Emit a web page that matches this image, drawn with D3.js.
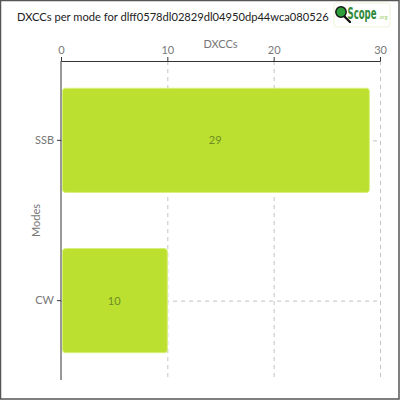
<!DOCTYPE html>
<html><head><meta charset="utf-8">
<script src="https://cdn.jsdelivr.net/npm/d3@7"></script>
<style>
html,body{margin:0;padding:0;background:#fff;}
svg{display:block;font-family:"Lato","DejaVu Sans",sans-serif;}
</style></head>
<body>
<svg id="chart" width="400" height="400"></svg>
<script>
const titleText = "DXCCs per mode for dlff0578dl02829dl04950dp44wca080526";
const modes = ["SSB", "CW"];
const dxccs = [29, 10];
const xTicks = [0, 10, 20, 30];
const xLabel = "DXCCs";
const yLabel = "Modes";

const svg = d3.select("#chart");
const W = 400, H = 400;
const m = {left: 61, right: 20, top: 61, bottom: 20};

function fitText(sel, base, target) {
  sel.attr("font-size", base);
  const w = sel.node().getComputedTextLength();
  sel.attr("font-size", (base * target / w).toFixed(2));
}

// outer border
svg.append("rect").attr("x", 0.5).attr("y", 0.5).attr("width", W - 1.5).attr("height", H - 1.5)
  .attr("fill", "#fff").attr("stroke", "#555").attr("stroke-width", 1.5);

const title = svg.append("text").attr("x", 17).attr("y", 21).attr("fill", "#222").text(titleText);
fitText(title, 12, 312);

// logo
const logo = svg.append("g");
logo.append("rect").attr("x", 334).attr("y", 3).attr("width", 56).attr("height", 24).attr("rx", 3)
  .attr("fill", "#fff").attr("stroke", "#eef3d8").attr("stroke-width", 1);
logo.append("line").attr("x1", 343).attr("y1", 15).attr("x2", 350).attr("y2", 22)
  .attr("stroke", "#111").attr("stroke-width", 2.4).attr("stroke-linecap", "round");
logo.append("circle").attr("cx", 341).attr("cy", 12).attr("r", 5.2)
  .attr("fill", "#2e9e3a").attr("stroke", "#111").attr("stroke-width", 1.4);
const scopeG = logo.append("g");
const scope = scopeG.append("text").attr("x", 0).attr("y", 0).attr("font-weight", "bold")
  .attr("font-size", 15)
  .attr("font-family", "'Liberation Sans Narrow','DejaVu Sans Condensed',sans-serif")
  .attr("fill", "#2d8a3a").text("Scope");
const sw = scope.node().getComputedTextLength();
scopeG.attr("transform", `translate(347.5,18.5) scale(${(29 / sw).toFixed(3)},1)`);
const org = logo.append("text").attr("x", 378.5).attr("y", 19).attr("fill", "#9ccf6a").text(".org");
fitText(org, 5, 9);

const x = d3.scaleLinear().domain([0, 30]).range([m.left, W - m.right]);
const y = d3.scaleBand().domain(modes).range([m.top, H - m.bottom]).paddingInner(0.35).paddingOuter(0.17);

// grid
const grid = svg.append("g").attr("stroke", "#c4c4c4").attr("stroke-dasharray", "4,4").attr("stroke-width", 1);
grid.selectAll("line.v").data(xTicks.filter(d => d > 0)).join("line")
  .attr("x1", d => x(d) + 0.5).attr("x2", d => x(d) + 0.5)
  .attr("y1", m.top).attr("y2", H - m.bottom);
grid.selectAll("line.h").data(modes).join("line")
  .attr("x1", m.left).attr("x2", W - m.right)
  .attr("y1", d => y(d) + y.bandwidth() / 2 + 0.5).attr("y2", d => y(d) + y.bandwidth() / 2 + 0.5);

// bars
svg.append("g").selectAll("rect").data(modes).join("rect")
  .attr("x", x(0) + 1.5).attr("y", d => y(d))
  .attr("width", (d, i) => x(dxccs[i]) - x(0) - 1.5)
  .attr("height", y.bandwidth())
  .attr("rx", 3)
  .attr("fill", "#bce030").attr("stroke", "#d8f07a").attr("stroke-width", 1);

svg.append("g").selectAll("text").data(modes).join("text")
  .attr("x", (d, i) => (x(0) + x(dxccs[i])) / 2)
  .attr("y", d => y(d) + y.bandwidth() / 2 + 4)
  .attr("text-anchor", "middle").attr("font-size", 11).attr("fill", "#6c8d25")
  .text((d, i) => dxccs[i]);

// axes
const xAxis = svg.append("g").attr("transform", `translate(0,${m.top})`)
  .call(d3.axisTop(x).tickValues(xTicks).tickSize(4).tickSizeOuter(0));
const yAxis = svg.append("g").attr("transform", `translate(${m.left},0)`)
  .call(d3.axisLeft(y).tickSize(4).tickSizeOuter(0));
[xAxis, yAxis].forEach(a => {
  a.select(".domain").attr("stroke", "#333");
  a.selectAll(".tick line").attr("stroke", "#333");
  a.selectAll(".tick text").attr("fill", "#777").attr("font-size", 11)
    .attr("font-family", "'Lato','DejaVu Sans',sans-serif");
});
yAxis.select(".domain").attr("d", `M0,${m.top}V${H - m.bottom}`);

svg.append("text").attr("x", (x(0) + x(30)) / 2).attr("y", 48).attr("text-anchor", "middle")
  .attr("font-size", 11).attr("fill", "#777").text(xLabel);
svg.append("text").attr("transform", `translate(40,${(m.top + H - m.bottom) / 2}) rotate(-90)`)
  .attr("text-anchor", "middle").attr("font-size", 11).attr("fill", "#777").text(yLabel);
</script>
</body></html>
